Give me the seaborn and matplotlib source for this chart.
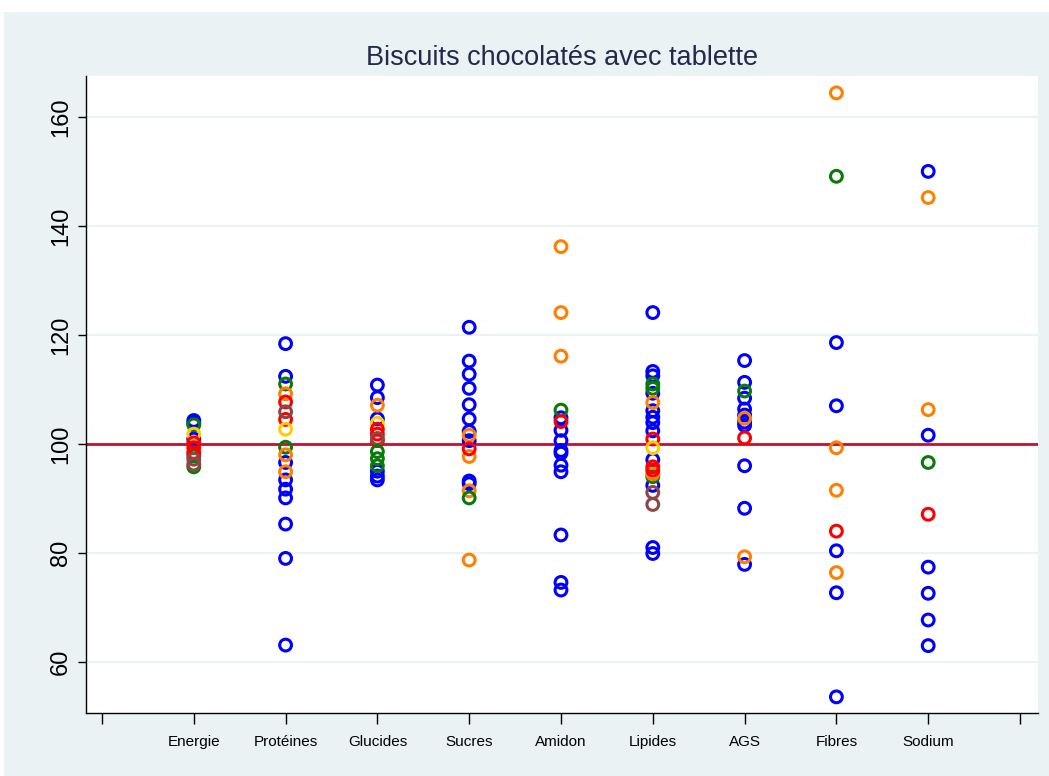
import numpy as np
import pandas as pd
import matplotlib
matplotlib.use("Agg")
import matplotlib.pyplot as plt
from matplotlib.patches import Rectangle
import seaborn as sns

categories = ["Energie", "Protéines", "Glucides", "Sucres", "Amidon",
              "Lipides", "AGS", "Fibres", "Sodium"]

# values, one colour tag per point
energie_vals = [104.3, 103.8, 100.9, 103.5, 97.8, 95.8, 101.8, 100.2, 99.3, 98.4, 97.2, 96.3]
energie_cols = ["blue", "blue", "blue", "green", "green", "green", "yellow", "red", "red", "red", "brown", "brown"]

proteines_vals = [118.4, 112.4, 96.6, 93.4, 91.7, 90.1, 85.3, 79.0, 63.1,
                  111.0, 99.4, 109.2, 98.0, 94.9, 107.7, 104.5, 105.9, 102.7]
proteines_cols = ["blue"] * 9 + ["green", "green", "orange", "orange", "orange",
                                 "red", "red", "brown", "yellow"]

glucides_vals = [110.8, 108.5, 104.6, 95.0, 94.1, 93.4,
                 107.1, 103.8, 102.7, 101.8, 100.6, 101.0, 98.6, 97.3, 96.0]
glucides_cols = ["blue"] * 6 + ["orange", "yellow", "red", "red", "red", "brown",
                                "green", "green", "green"]

sucres_vals = [121.4, 115.2, 112.8, 110.2, 107.2, 104.6, 102.3, 100.6, 93.2, 92.7,
               101.6, 97.7, 91.4, 78.7, 99.1, 90.1]
sucres_cols = ["blue"] * 10 + ["orange"] * 4 + ["red", "green"]

amidon_vals = [104.8, 102.5, 100.6, 98.8, 98.3, 96.1, 94.9, 83.3, 74.6, 73.2,
               136.2, 124.1, 116.1, 106.2, 104.1]
amidon_cols = ["blue"] * 10 + ["orange"] * 3 + ["green", "red"]

lipides_vals = [124.1, 113.3, 112.5, 109.3, 106.1, 104.9, 103.9, 102.4, 97.1, 92.4, 81.0, 79.9,
                111.0, 110.2, 94.0, 107.6, 94.5, 100.9, 95.8, 95.2, 99.3, 91.1, 88.9]
lipides_cols = ["blue"] * 12 + ["green"] * 3 + ["orange"] * 2 + ["red"] * 3 + ["yellow", "brown", "brown"]

ags_vals = [115.3, 111.3, 108.4, 106.4, 105.3, 104.0, 103.4, 96.0, 88.2, 77.9,
            109.7, 104.7, 79.3, 101.1]
ags_cols = ["blue"] * 10 + ["green", "orange", "orange", "red"]

fibres_vals = [118.6, 107.0, 80.4, 72.7, 53.6, 164.4, 99.3, 91.5, 76.4, 149.1, 84.0]
fibres_cols = ["blue"] * 5 + ["orange"] * 4 + ["green", "red"]

sodium_vals = [150.0, 101.6, 77.4, 72.6, 67.7, 63.0, 145.2, 106.3, 96.6, 87.1]
sodium_cols = ["blue"] * 6 + ["orange", "orange", "green", "red"]

all_vals = [energie_vals, proteines_vals, glucides_vals, sucres_vals, amidon_vals,
            lipides_vals, ags_vals, fibres_vals, sodium_vals]
all_cols = [energie_cols, proteines_cols, glucides_cols, sucres_cols, amidon_cols,
            lipides_cols, ags_cols, fibres_cols, sodium_cols]

rows = []
for i, (vals, cols) in enumerate(zip(all_vals, all_cols)):
    for v, c in zip(vals, cols):
        rows.append({"pos": i + 1, "value": v, "grp": c})
df = pd.DataFrame(rows)

palette = {"blue": "#0000ff", "orange": "#ff8000", "green": "#0a7a0a",
           "red": "#ff0000", "yellow": "#ffcc00", "brown": "#8c4646"}

sns.set_style("white")
plt.rcParams["font.family"] = ["Liberation Sans", "DejaVu Sans"]

fig = plt.figure(figsize=(10.49, 7.76), dpi=100)
fig.patch.set_facecolor("white")
fig.add_artist(Rectangle((4 / 1049, 0), 1, 1 - 12 / 776, transform=fig.transFigure,
                         facecolor="#eaf2f3", edgecolor="none", zorder=-10))
ax = fig.add_axes([86 / 1049, 63 / 776, (1038 - 86) / 1049, (713 - 76) / 776])
ax.set_facecolor("white")

for yv in range(60, 161, 20):
    ax.axhline(yv, color="#eaf2f3", lw=1.5, zorder=0)
ax.axhline(100, color="#c8102e", lw=2, zorder=1)

sns.scatterplot(data=df, x="pos", y="value", hue="grp", palette=palette,
                s=72, marker="o", facecolors="none", linewidth=2.2,
                legend=False, ax=ax, zorder=3)
# hollow circles: edge takes the hue colour
coll = ax.collections[-1]
coll.set_edgecolors(coll.get_facecolors())
coll.set_facecolors("none")

ax.set_xlim(-0.174, 10.196)
ax.set_ylim(50.64, 167.5)
ax.set_xticks(range(0, 11))
ax.set_xticklabels([""] + categories + [""], fontsize=11)
ax.set_yticks(range(60, 161, 20))
ax.set_yticklabels([str(v) for v in range(60, 161, 20)], fontsize=17,
                   rotation=90, va="center")
ax.tick_params(axis="x", bottom=True, length=8, width=1, color="black",
               labelcolor="black", pad=8)
ax.tick_params(axis="y", left=True, length=6, width=1, color="black",
               labelcolor="black", pad=4)
ax.set_xlabel("")
ax.set_ylabel("")
for s in ["top", "right"]:
    ax.spines[s].set_visible(False)
for s in ["left", "bottom"]:
    ax.spines[s].set_color("black")
    ax.spines[s].set_linewidth(1)

fig.text(562 / 1049, 1 - 58 / 776, "Biscuits chocolatés avec tablette",
         ha="center", va="center", fontsize=19.5, color="#1f2a4d")

fig.savefig("out.png", dpi=100)
